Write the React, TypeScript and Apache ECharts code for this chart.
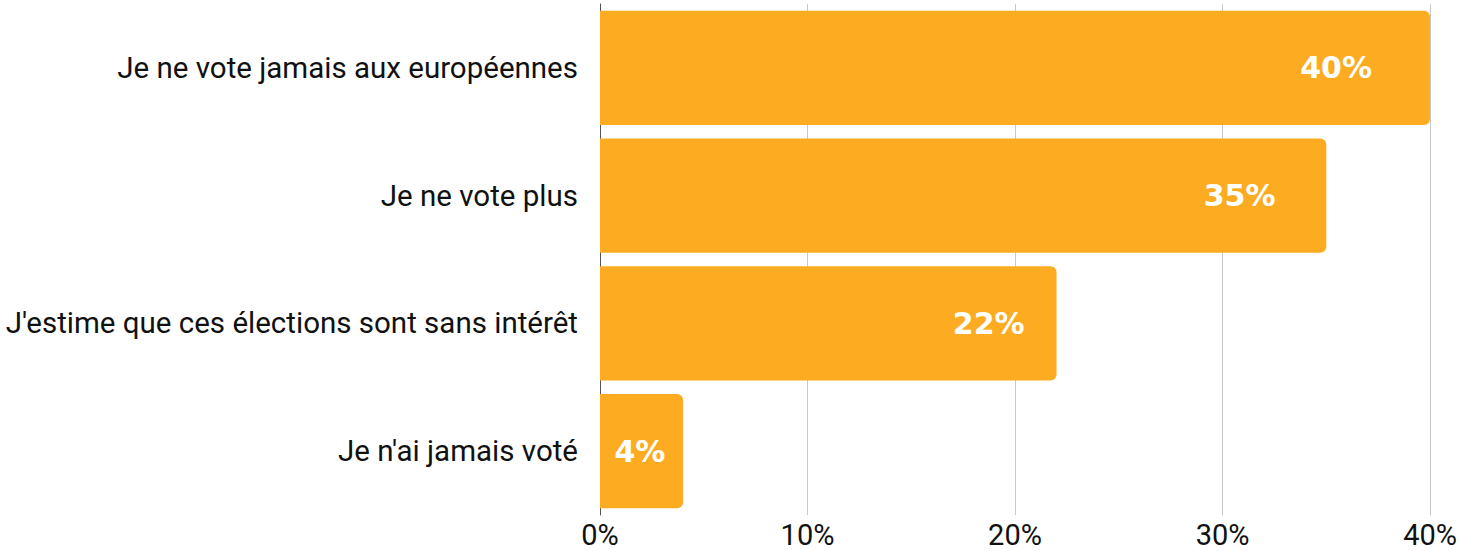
import React, { useEffect, useRef } from "react";
import * as echarts from "echarts";

const categories = [
  "Je ne vote jamais aux européennes",
  "Je ne vote plus",
  "J'estime que ces élections sont sans intérêt",
  "Je n'ai jamais voté",
];
const values = [40, 35, 22, 4];
const xTicks = [0, 10, 20, 30, 40];

export default function App() {
  const ref = useRef<HTMLDivElement>(null);
  useEffect(() => {
    if (!ref.current) return;
    const chart = echarts.init(ref.current, undefined, { renderer: "svg" });
    chart.setOption({
      animation: false,
      grid: { left: 600, right: 27, top: 4, bottom: 36, containLabel: false },
      xAxis: {
        type: "value",
        min: xTicks[0],
        max: xTicks[xTicks.length - 1],
        interval: 10,
        axisLine: { show: false },
        axisTick: { show: false },
        splitLine: { show: true, lineStyle: { color: "#c8c8c8", width: 1 } },
        axisLabel: {
          formatter: "{value}%",
          color: "#111",
          fontFamily: "Roboto",
          fontSize: 29,
          lineHeight: 29,
          margin: 5,
        },
      },
      yAxis: {
        type: "category",
        data: categories,
        inverse: true,
        axisLine: { show: true, lineStyle: { color: "#555", width: 1 } },
        axisTick: { show: false },
        axisLabel: {
          color: "#111",
          fontFamily: "Roboto",
          fontSize: 29.5,
          margin: 22,
        },
      },
      series: [
        {
          type: "bar",
          barCategoryGap: "10.5%",
          data: values.map((v) => ({
            value: v,
            label: {
              position: v < 10 ? ["48%", "50%"] : ["93%", "50%"],
              align: v < 10 ? "center" : "right",
              verticalAlign: "middle",
            },
          })),
          itemStyle: { color: "#FDAB20", borderRadius: [0, 6, 6, 0] },
          label: {
            show: true,
            formatter: "{c}%",
            color: "#fff",
            fontFamily: "DejaVu Sans",
            fontWeight: "bold",
            fontSize: 30,
          },
        },
      ],
    });
    return () => chart.dispose();
  }, []);
  return (
    <div
      ref={ref}
      style={{ position: "absolute", left: 0, top: 0, width: 1460, height: 551 }}
    />
  );
}
